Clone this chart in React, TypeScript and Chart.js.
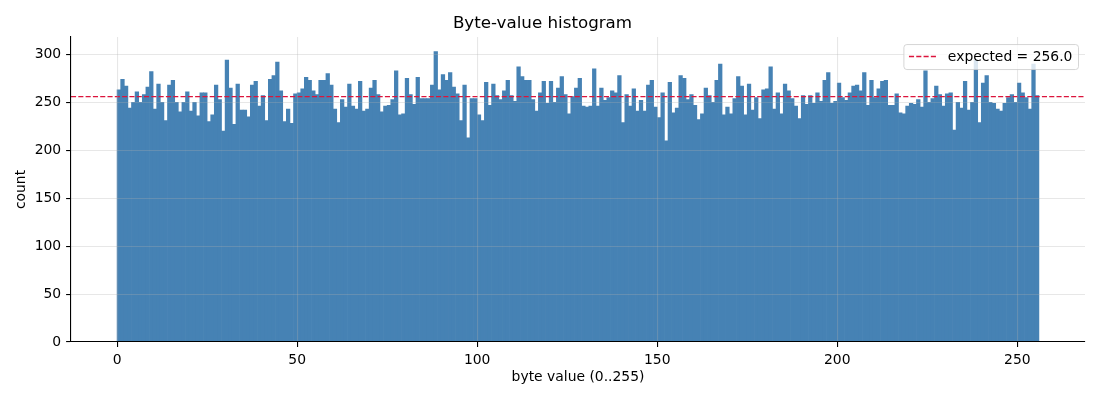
import React, { useEffect, useRef } from 'react';
import { Chart, registerables } from 'chart.js';

Chart.register(...registerables);

// byte values 0..255 (one bin per value)
const byteValues: number[] = Array.from({ length: 256 }, (_, i) => i);

const counts: number[] = [
  263, 274, 267, 244, 250, 261, 250, 258, 266, 282, 243, 269, 250, 231, 268, 273,
  250, 240, 250, 261, 241, 250, 236, 260, 260, 230, 237, 268, 253, 220, 294, 265,
  227, 269, 242, 242, 235, 268, 272, 246, 257, 231, 274, 278, 292, 262, 230, 243,
  228, 259, 260, 264, 276, 273, 262, 258, 273, 273, 280, 268, 243, 229, 253, 245,
  269, 246, 243, 272, 241, 243, 265, 273, 258, 240, 246, 247, 253, 283, 237, 238,
  275, 258, 248, 276, 254, 254, 254, 268, 303, 263, 279, 273, 281, 266, 259, 231,
  268, 213, 254, 254, 237, 231, 271, 247, 269, 257, 253, 262, 273, 257, 251, 287,
  277, 273, 273, 253, 241, 260, 272, 249, 272, 250, 265, 277, 258, 238, 256, 265,
  275, 246, 245, 246, 285, 246, 265, 252, 255, 262, 260, 278, 229, 258, 246, 264,
  241, 252, 241, 268, 273, 245, 234, 260, 210, 271, 239, 244, 278, 275, 253, 258,
  247, 232, 238, 265, 257, 250, 273, 290, 237, 245, 238, 254, 277, 267, 237, 269,
  242, 255, 233, 263, 264, 287, 243, 260, 238, 269, 262, 254, 246, 233, 257, 248,
  257, 249, 260, 251, 273, 281, 249, 251, 270, 255, 252, 260, 267, 268, 262, 281,
  247, 273, 255, 264, 272, 273, 247, 247, 259, 239, 238, 246, 249, 248, 253, 245,
  283, 250, 254, 267, 258, 246, 259, 260, 221, 250, 244, 272, 242, 250, 294, 229,
  270, 278, 250, 249, 243, 241, 249, 255, 258, 250, 270, 260, 255, 243, 290, 257,
];

const expectedCount = 256;
const xTicks = [0, 50, 100, 150, 200, 250];
const yTicks = [0, 50, 100, 150, 200, 250, 300];

const FONT = 'DejaVu Sans';
const FS = 13.9;

const legendBox = {
  id: 'legendBox',
  afterDraw(chart: Chart) {
    const { ctx, chartArea } = chart;
    const label = `expected = ${expectedCount.toFixed(1)}`;
    ctx.save();
    ctx.font = `${FS}px "${FONT}"`;
    const tw = ctx.measureText(label).width;
    const pad = 0.4 * FS;
    const handle = 2 * FS;
    const gap = 0.8 * FS;
    const w = pad + handle + gap + tw + pad;
    const h = 25;
    const x = chartArea.right - 7 - w;
    const y = chartArea.top + 7;
    ctx.beginPath();
    ctx.roundRect(x + 0.5, y + 0.5, w, h, 3);
    ctx.fillStyle = 'rgba(255,255,255,0.8)';
    ctx.fill();
    ctx.strokeStyle = 'rgba(204,204,204,0.8)';
    ctx.lineWidth = 1;
    ctx.stroke();
    const cy = y + h / 2;
    ctx.beginPath();
    ctx.setLineDash([5.1, 2.2]);
    ctx.strokeStyle = '#dc143c';
    ctx.lineWidth = 1.4;
    ctx.moveTo(x + pad, cy);
    ctx.lineTo(x + pad + handle, cy);
    ctx.stroke();
    ctx.setLineDash([]);
    ctx.fillStyle = '#000';
    ctx.textBaseline = 'middle';
    ctx.textAlign = 'left';
    ctx.fillText(label, x + pad + handle + gap, cy + 0.5);
    ctx.restore();
  },
};

const App: React.FC = () => {
  const canvasRef = useRef<HTMLCanvasElement>(null);
  const chartRef = useRef<Chart | null>(null);

  useEffect(() => {
    if (!canvasRef.current) return;
    if (chartRef.current) {
      chartRef.current.destroy();
      chartRef.current = null;
    }

    const yMax = Math.max(...counts) * 1.05;
    const xMin = -0.05 * 256;
    const xMax = 256 + 0.05 * 256;

    chartRef.current = new Chart(canvasRef.current, {
      type: 'bar',
      data: {
        datasets: [
          {
            type: 'line',
            label: 'expected',
            data: [
              { x: xMin, y: expectedCount },
              { x: xMax, y: expectedCount },
            ],
            borderColor: '#dc143c',
            borderWidth: 1.4,
            borderDash: [5.1, 2.2],
            pointRadius: 0,
            order: 0,
          },
          {
            type: 'bar',
            label: 'count',
            data: byteValues.map((b, i) => ({ x: b + 0.5, y: counts[i] })),
            backgroundColor: '#4682b4',
            borderWidth: 0,
            barPercentage: 1,
            categoryPercentage: 1,
            order: 1,
          },
        ],
      },
      options: {
        responsive: false,
        animation: false,
        layout: { padding: { left: 0, right: 15, top: 0, bottom: 0 } },
        font: { family: FONT },
        plugins: {
          legend: { display: false },
          tooltip: { enabled: false },
          title: {
            display: true,
            text: 'Byte-value histogram',
            color: '#000',
            font: { family: FONT, size: 16.7, weight: 'normal' },
            padding: { top: 13.5, bottom: 3.5 },
          },
        },
        scales: {
          x: {
            type: 'linear',
            min: xMin,
            max: xMax,
            offset: false,
            afterBuildTicks: (s: any) => {
              s.ticks = xTicks.map((v) => ({ value: v }));
            },
            afterFit: (s: any) => {
              s.height = 58;
            },
            ticks: {
              color: '#000',
              font: { family: FONT, size: FS },
              padding: 4.9,
              maxRotation: 0,
            },
            grid: {
              offset: false,
              color: 'rgba(176,176,176,0.3)',
              lineWidth: 1.1,
              tickColor: '#000',
              tickLength: 4.9,
              tickWidth: 1.1,
              z: 1,
            },
            border: { display: true, color: '#000', width: 1.1, z: 2 },
            title: {
              display: true,
              text: 'byte value (0..255)',
              color: '#000',
              font: { family: FONT, size: FS, lineHeight: 1.2 },
              padding: { top: 0, bottom: 14.7 },
            },
          },
          y: {
            type: 'linear',
            min: 0,
            max: yMax,
            afterBuildTicks: (s: any) => {
              s.ticks = yTicks.map((v) => ({ value: v }));
            },
            afterFit: (s: any) => {
              s.width = 71;
            },
            ticks: {
              color: '#000',
              font: { family: FONT, size: FS },
              padding: 4.9,
            },
            grid: {
              color: 'rgba(176,176,176,0.3)',
              lineWidth: 1.1,
              tickColor: '#000',
              tickLength: 4.9,
              tickWidth: 1.1,
              z: 1,
            },
            border: { display: true, color: '#000', width: 1.1, z: 2 },
            title: {
              display: true,
              text: 'count',
              color: '#000',
              font: { family: FONT, size: FS, lineHeight: 1.2 },
              padding: { top: 13.4, bottom: 0 },
            },
          },
        },
      },
      plugins: [legendBox],
    });

    return () => {
      if (chartRef.current) {
        chartRef.current.destroy();
        chartRef.current = null;
      }
    };
  }, []);

  return (
    <div
      style={{
        position: 'fixed',
        left: 0,
        top: 0,
        width: 1100,
        height: 400,
        background: '#fff',
      }}
    >
      <canvas ref={canvasRef} width={1100} height={400} />
    </div>
  );
};

export default App;
